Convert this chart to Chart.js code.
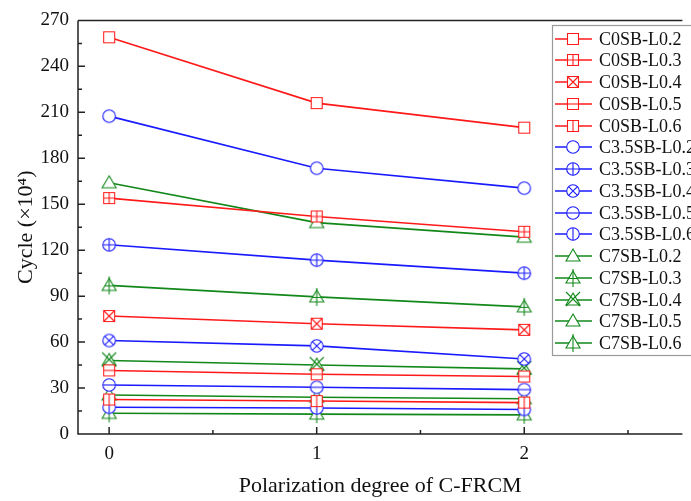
<!DOCTYPE html>
<html><head><meta charset="utf-8">
<script src="https://cdn.jsdelivr.net/npm/chart.js"></script>
<style>html,body{margin:0;padding:0;background:#fff;overflow:hidden}#wrap{width:691px;height:501px}</style>
</head><body><div id="wrap"><canvas id="c" width="691" height="501"></canvas></div>
<script>
// ---- data ----
const polarization = [0, 1, 2];
const xTickValues = [0, 1, 2];
const yTickValues = [0, 30, 60, 90, 120, 150, 180, 210, 240, 270];
const seriesNames = ['C0SB-L0.2','C0SB-L0.3','C0SB-L0.4','C0SB-L0.5','C0SB-L0.6',
  'C3.5SB-L0.2','C3.5SB-L0.3','C3.5SB-L0.4','C3.5SB-L0.5','C3.5SB-L0.6',
  'C7SB-L0.2','C7SB-L0.3','C7SB-L0.4','C7SB-L0.5','C7SB-L0.6'];
const C0SB_L02 = [259, 216, 200];
const C0SB_L03 = [154, 142, 132];
const C0SB_L04 = [77, 72, 68];
const C0SB_L05 = [41.5, 39, 37.5];
const C0SB_L06 = [22.5, 21.5, 20.5];
const C35SB_L02 = [207.5, 173.5, 160.5];
const C35SB_L03 = [123.5, 113.5, 105];
const C35SB_L04 = [61, 57.5, 49];
const C35SB_L05 = [32, 30.5, 29];
const C35SB_L06 = [17.5, 17, 16];
const C7SB_L02 = [164, 138, 128.5];
const C7SB_L03 = [97, 89.5, 83];
const C7SB_L04 = [48, 45, 42.5];
const C7SB_L05 = [25.5, 24, 23];
const C7SB_L06 = [13.5, 13, 12.5];
const seriesValues = [C0SB_L02,C0SB_L03,C0SB_L04,C0SB_L05,C0SB_L06,
  C35SB_L02,C35SB_L03,C35SB_L04,C35SB_L05,C35SB_L06,
  C7SB_L02,C7SB_L03,C7SB_L04,C7SB_L05,C7SB_L06];

// ---- styles ----
const RED = '#ff1a1a', BLUE = '#1a1aff', GREEN = '#12881a';
const seriesColors = [RED,RED,RED,RED,RED,BLUE,BLUE,BLUE,BLUE,BLUE,GREEN,GREEN,GREEN,GREEN,GREEN];
const seriesShapes = ['square','square','square','square','square','circle','circle','circle','circle','circle','tri','tri','tri','tri','tri'];
const seriesDeco = ['none','plus','x','h','v','none','plus','x','h','v','none','plusT','xT','none','vT'];

function makeMarker(shape, deco, color){
  const s = 24, c = document.createElement('canvas'); c.width = s; c.height = s;
  const g = c.getContext('2d'); g.strokeStyle = color; g.fillStyle = '#fff'; g.lineWidth = 1.1;
  const cx = 12, cy = 12;
  g.beginPath();
  if (shape === 'square') g.rect(cx-5.5, cy-5.5, 11, 11);
  else if (shape === 'circle') g.arc(cx, cy, 6.3, 0, Math.PI*2);
  else { g.moveTo(cx, cy-7); g.lineTo(cx+7, cy+5); g.lineTo(cx-7, cy+5); g.closePath(); }
  g.fill(); g.stroke();
  g.beginPath();
  const r = shape === 'square' ? 5.5 : 6.3;
  const d = shape === 'square' ? 5.5 : 6.3*0.7071;
  if (deco === 'plus') { g.moveTo(cx, cy-r); g.lineTo(cx, cy+r); g.moveTo(cx-r, cy); g.lineTo(cx+r, cy); }
  if (deco === 'x') { g.moveTo(cx-d, cy-d); g.lineTo(cx+d, cy+d); g.moveTo(cx+d, cy-d); g.lineTo(cx-d, cy+d); }
  if (deco === 'h') { g.moveTo(cx-r, cy); g.lineTo(cx+r, cy); }
  if (deco === 'v') { g.moveTo(cx, cy-r); g.lineTo(cx, cy+r); }
  if (deco === 'vT') { g.moveTo(cx, cy-9); g.lineTo(cx, cy+9); }
  if (deco === 'plusT') { g.moveTo(cx, cy-9); g.lineTo(cx, cy+9); g.moveTo(cx-4, cy+0.5); g.lineTo(cx+4, cy+0.5); }
  if (deco === 'xT') { g.moveTo(cx-7, cy-8); g.lineTo(cx+7, cy+6); g.moveTo(cx+7, cy-8); g.lineTo(cx-7, cy+6); }
  g.stroke();
  return c;
}

const markers = seriesNames.map((n, i) => makeMarker(seriesShapes[i], seriesDeco[i], seriesColors[i]));

const datasets = seriesNames.map((name, i) => ({
  label: name,
  data: polarization.map((x, j) => ({x: x, y: seriesValues[i][j]})),
  borderColor: seriesColors[i],
  backgroundColor: '#fff',
  borderWidth: 1.6,
  pointStyle: markers[i],
  pointRadius: 7,
  pointHoverRadius: 7,
  fill: false,
  tension: 0
}));

const SERIF = '"Liberation Serif", "Times New Roman", serif';

const framePlugin = {
  id: 'frame',
  afterDraw(chart){
    const {ctx, chartArea: a, scales: {x, y}} = chart;
    ctx.save();
    ctx.strokeStyle = '#222'; ctx.lineWidth = 1.5;
    ctx.beginPath();
    ctx.moveTo(a.left, a.top); ctx.lineTo(a.left, a.bottom); ctx.lineTo(a.right, a.bottom);
    ctx.moveTo(a.left, a.top); ctx.lineTo(a.right, a.top);
    for (let k = 0; k < yTickValues.length; k++) {
      const v = yTickValues[k];
      const p = y.getPixelForValue(v);
      ctx.moveTo(a.left, p); ctx.lineTo(a.left + 7, p);
      if (k < yTickValues.length - 1) {
        const pm = y.getPixelForValue((v + yTickValues[k+1]) / 2);
        ctx.moveTo(a.left, pm); ctx.lineTo(a.left + 4, pm);
      }
    }
    for (let k = 0; k < xTickValues.length; k++) {
      const p = x.getPixelForValue(xTickValues[k]);
      ctx.moveTo(p, a.bottom); ctx.lineTo(p, a.bottom - 7);
      const pm = x.getPixelForValue(xTickValues[k] + 0.5);
      ctx.moveTo(pm, a.bottom); ctx.lineTo(pm, a.bottom - 4);
    }
    ctx.stroke();

    // legend
    const L = 552, T = 25, B = 355;
    ctx.fillStyle = '#fff';
    ctx.fillRect(L, T, 200, B - T);
    ctx.strokeStyle = '#9a9a9a'; ctx.lineWidth = 1.2;
    ctx.strokeRect(L + 0.5, T + 0.5, 200, B - T);
    ctx.font = '18px ' + SERIF;
    ctx.textBaseline = 'middle'; ctx.textAlign = 'left';
    chart.data.datasets.forEach((ds, i) => {
      const yy = Math.round(38.5 + i * 21.75);
      ctx.strokeStyle = ds.borderColor; ctx.lineWidth = 1.6;
      ctx.beginPath(); ctx.moveTo(555, yy); ctx.lineTo(592, yy); ctx.stroke();
      const m = ds.pointStyle;
      ctx.drawImage(m, 573 - m.width/2, yy - m.height/2);
      ctx.fillStyle = '#111';
      ctx.fillText(ds.label, 599, yy + 1);
    });
    ctx.restore();
  }
};

new Chart(document.getElementById('c'), {
  type: 'line',
  data: { datasets: datasets },
  plugins: [framePlugin],
  options: {
    responsive: false,
    animation: false,
    devicePixelRatio: 1,
    layout: { padding: { top: 20, right: -14, left: 0, bottom: 0 } },
    plugins: { legend: { display: false }, tooltip: { enabled: false } },
    scales: {
      x: {
        type: 'linear', min: -0.15, max: 2.762,
        afterBuildTicks: s => { s.ticks = xTickValues.map(v => ({value: v})); },
        afterFit: s => { s.height = 67; },
        grid: { display: false, drawTicks: false },
        border: { display: false },
        ticks: { padding: 9, color: '#111', font: { family: SERIF, size: 19 }, callback: v => String(v), maxRotation: 0 },
        title: { display: true, text: 'Polarization degree of C-FRCM', color: '#111', font: { family: SERIF, size: 22 }, padding: { top: 0, bottom: 2 } }
      },
      y: {
        min: 0, max: 270,
        afterBuildTicks: s => { s.ticks = yTickValues.map(v => ({value: v})); },
        afterFit: s => { s.width = 78; },
        grid: { display: false, drawTicks: false },
        border: { display: false },
        ticks: { padding: 9, color: '#111', font: { family: SERIF, size: 19 } },
        title: { display: true, text: 'Cycle (×10⁴)', color: '#111', font: { family: SERIF, size: 22 }, padding: { top: 13, bottom: 0 } }
      }
    }
  }
});
</script>
</body></html>
